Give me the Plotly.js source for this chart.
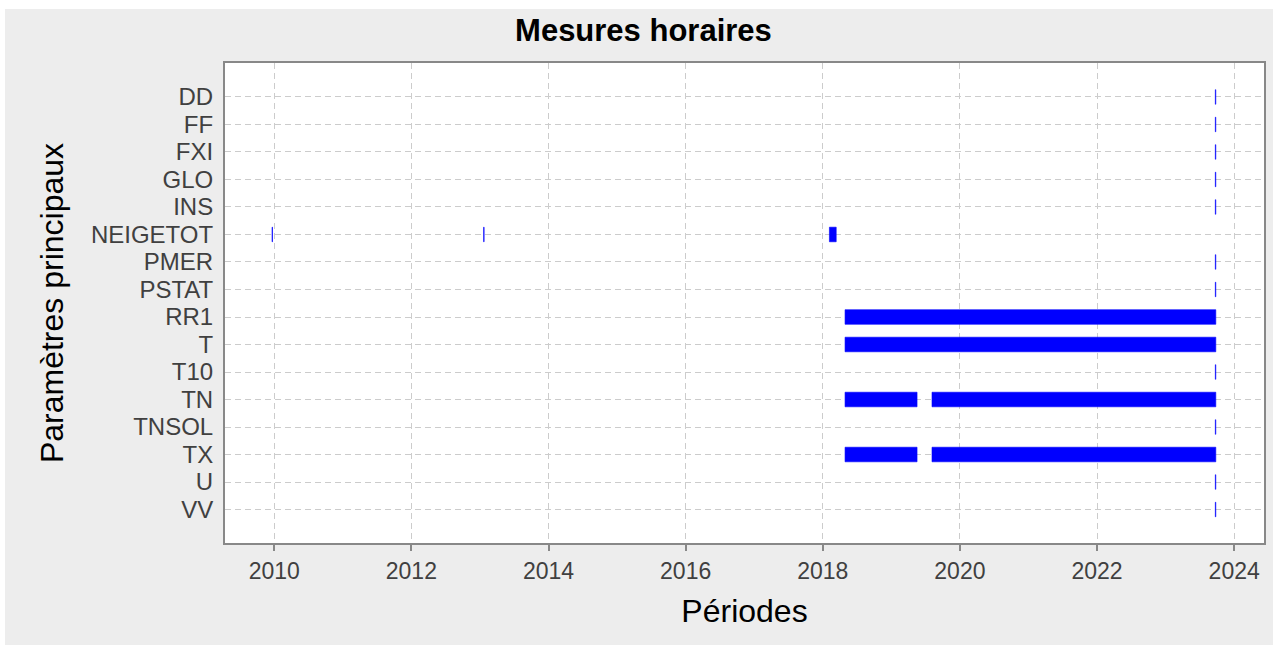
<!DOCTYPE html>
<html>
<head>
<meta charset="utf-8">
<script src="https://cdn.plot.ly/plotly-3.0.1.min.js"></script>
<style>
  html, body { margin: 0; padding: 0; background: #ffffff; width: 1273px; height: 646px; overflow: hidden; }
  #chart { position: absolute; left: 5px; top: 9px; width: 1268px; height: 636px; }
</style>
</head>
<body>
<div id="chart"></div>
<script>
// Parameters (y categories, top to bottom)
const params = ['DD','FF','FXI','GLO','INS','NEIGETOT','PMER','PSTAT','RR1','T','T10','TN','TNSOL','TX','U','VV'];

// Measurement periods (decimal years)
const segParam = ['DD','FF','FXI','GLO','INS',
                  'NEIGETOT','NEIGETOT','NEIGETOT',
                  'PMER','PSTAT','RR1','T','T10',
                  'TN','TN','TNSOL','TX','TX','U','VV'];
const segStart = [2023.725,2023.725,2023.725,2023.725,2023.725,
                  2009.968,2013.054,2018.097,
                  2023.725,2023.725,2018.325,2018.325,2023.725,
                  2018.325,2019.593,2023.725,2018.325,2019.593,2023.725,2023.725];
const segEnd   = [2023.732,2023.732,2023.732,2023.732,2023.732,
                  2009.975,2013.061,2018.196,
                  2023.732,2023.732,2023.732,2023.732,2023.732,
                  2019.375,2023.732,2023.732,2019.375,2023.732,2023.732,2023.732];

const xTicks = [2010,2012,2014,2016,2018,2020,2022,2024];

const yIdx = segParam.map(p => params.indexOf(p));
const durations = segEnd.map((e, i) => e - segStart[i]);

const trace = {
  type: 'bar',
  orientation: 'h',
  y: yIdx,
  base: segStart,
  x: durations,
  width: 0.53,
  marker: { color: '#0000ff', line: { width: 0.6, color: '#0000ff' } },
  hoverinfo: 'skip',
  showlegend: false
};

const xTickFont = { family: 'Liberation Sans, Arial, sans-serif', size: 23, color: '#404040' };
const yTickFont = { family: 'Liberation Sans, Arial, sans-serif', size: 24, color: '#404040' };
const titleFont = { family: 'Liberation Sans, Arial, sans-serif', size: 32, color: '#000000' };

const layout = {
  width: 1268,
  height: 636,
  paper_bgcolor: '#ededed',
  plot_bgcolor: '#ffffff',
  margin: { l: 219.5, r: 8.5, t: 54, b: 101.5, pad: 0 },
  bargap: 0,
  title: {
    text: '<b>Mesures horaires</b>',
    font: { family: 'Liberation Sans, Arial, sans-serif', size: 31, color: '#000000' },
    x: 0.5035, xref: 'container', xanchor: 'center',
    y: 0.967, yref: 'container', yanchor: 'middle'
  },
  xaxis: {
    range: [2009.282, 2024.435],
    tickmode: 'array',
    tickvals: xTicks,
    ticktext: xTicks.map(String),
    ticks: 'outside', ticklen: 6, tickwidth: 2, tickcolor: '#888888',
    tickfont: xTickFont,
    showgrid: true, gridcolor: '#cccccc', gridwidth: 1, griddash: '6px,4px',
    showline: true, linecolor: '#888888', linewidth: 2, mirror: true,
    zeroline: false,
    title: { text: 'Périodes', font: titleFont, standoff: 17 }
  },
  yaxis: {
    range: [16.217, -1.235],
    tickmode: 'array',
    tickvals: params.map((p, i) => i),
    ticktext: params,
    ticks: '',
    ticklabelstandoff: 5,
    tickfont: yTickFont,
    showgrid: true, gridcolor: '#cccccc', gridwidth: 1, griddash: '6px,4px',
    showline: true, linecolor: '#888888', linewidth: 2, mirror: true,
    zeroline: false,
    title: { text: 'Paramètres principaux', font: titleFont, standoff: 18 }
  }
};

Plotly.newPlot('chart', [trace], layout, { staticPlot: true, displayModeBar: false });
</script>
</body>
</html>
